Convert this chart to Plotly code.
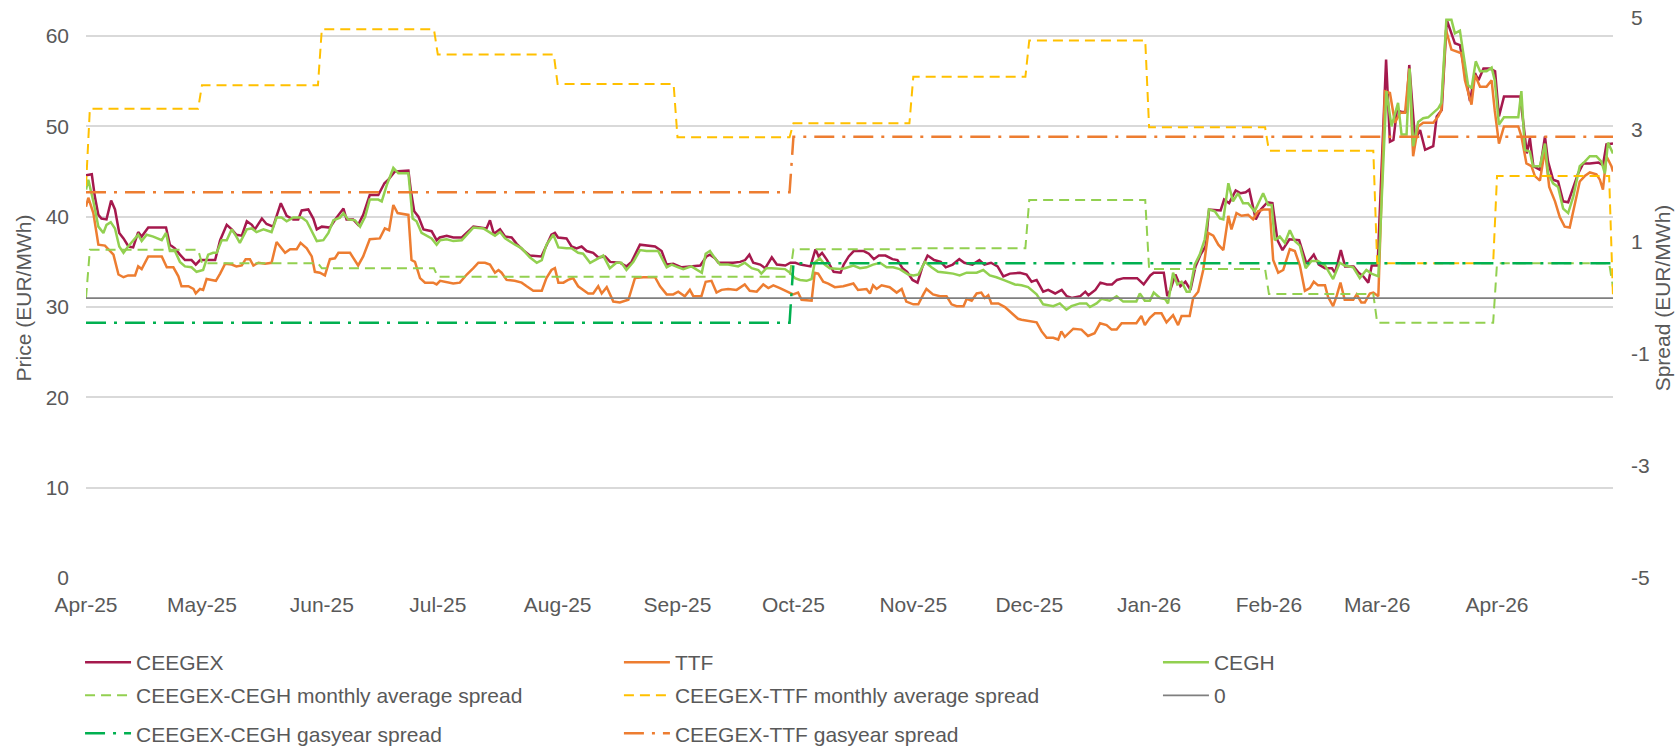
import plotly.graph_objects as go
import pandas as pd

# ---------------- data ----------------
START_DATE = "2025-04-01"   # day 0 of the day-offset arrays below

ceegex_day = [0, 1.5, 2.3, 3.2, 4, 5.3, 6.5, 7.5, 8.6, 9.7, 11, 12.2, 13.5, 14.4, 16.1, 20.7, 21.7, 23, 24.3, 25.6,
              27.3, 28.4, 29.5, 33.4, 34.7, 36.4, 37.7, 38.9, 40.3, 41.6, 42.9, 43.7, 45.5, 46.7, 48.4, 50.4, 51.9,
              53.6, 54.9, 55.8, 57.5, 58.8, 59.7, 61, 63.1, 64.8, 66.6, 67.4, 69.1, 70.4, 71.7, 73.4, 75.6, 77.2,
              78.2, 79.9, 83.4, 84, 84.9, 86, 87.3, 89.4, 90.7, 91.5, 93.3, 95, 97.2, 98.5, 100.2, 101.9, 103.6,
              104.5, 105.5, 107.1, 108.4, 110.1, 111.4, 113.1, 114.8, 117.8, 119.1, 120.4, 121.3, 122.1, 124.3,
              125.6, 126.9, 128.2, 129.5, 131.2, 132.5, 134.3, 135.6, 138.1, 139.8, 141.1, 143.3, 145, 147.2,
              148.9, 150.2, 151.9, 154.1, 156.2, 158.9, 160.5, 161.4, 162.7, 163.6, 167.4, 169.2, 170.5, 171.6,
              172.6, 174.4, 175.7, 177.4, 178.7, 180.9, 182.2, 183.5, 184.8, 187.4, 188.7, 189.5, 190.4, 191.7,
              193.4, 195.2, 196, 197.3, 198.6, 201.2, 202.5, 203.8, 205.1, 206.8, 208.6, 209.9, 211.2, 212.4,
              213.8, 215.1, 216.4, 217.7, 219.4, 221.1, 222.4, 224.2, 225.9, 227.2, 229.3, 231.1, 232.4, 234.1,
              235.8, 237.3, 239, 241.6, 243.3, 244.6, 245.9, 246.8, 247.6, 248.9, 250.7, 252.4, 253.7, 255, 257.2,
              258.5, 259.3, 261.1, 262.4, 264.1, 265.4, 266.7, 268.4, 271.9, 273.6, 275.3, 276.2, 278.8, 279.7,
              280.5, 281.8, 283.1, 284.4, 285.7, 287, 288.3, 289.6, 290.5, 293.5, 294.4, 295.7, 297.4, 298.7, 300,
              300.9, 302.6, 303.9, 305.6, 306.9, 308.2, 309.5, 311.3, 313.8, 315.7, 317.6, 318.9, 320.5, 322.3,
              323.1, 324.6, 325.7, 327.9, 329.2, 330.4, 331.7, 332.6, 334.1, 336.3, 337.3, 338.2, 339.1, 340.3,
              341.5, 342.3, 343.8, 345.1, 346.4, 348.5, 349.4, 350.7, 352, 353.2, 354.1, 355.4, 356.7, 358, 359.3,
              360.2, 361.5, 363.2, 364.5, 365.5, 366.8, 371, 371.8, 372.7, 373.5, 374.4, 376.1, 377.4, 378.2,
              379.5, 380.8, 382.1, 383.4, 384.7, 386, 387.3, 389, 391.2, 392.4, 393.3, 395]
ceegex_price = [44.6, 44.7, 42.2, 40.2, 39.8, 39.7, 41.8, 40.8, 38.2, 37.6, 36.7, 36.6, 38.3, 37.8, 38.8, 38.8, 36.9,
                36.5, 35.8, 35.2, 35.2, 34.7, 35.2, 35.2, 37.4, 39.1, 38.6, 38.0, 37.9, 39.5, 39.1, 38.6, 39.8, 39.2,
                38.9, 41.5, 40.1, 39.7, 39.7, 40.7, 40.8, 39.8, 38.6, 38.9, 38.8, 39.9, 40.9, 39.7, 39.7, 39.1, 40.2,
                42.4, 42.4, 43.7, 44.1, 45.0, 45.1, 43.0, 40.6, 40.0, 38.6, 38.4, 37.4, 37.7, 37.9, 37.7, 37.7, 38.2,
                38.9, 38.8, 38.7, 39.6, 38.1, 38.6, 37.8, 37.7, 37.0, 36.3, 35.7, 35.6, 36.9, 38.0, 38.2, 37.7, 37.6,
                36.7, 36.5, 36.7, 36.2, 36.0, 35.5, 35.6, 35.0, 34.9, 34.5, 35.0, 36.9, 36.8, 36.7, 36.2, 34.7, 34.8,
                34.4, 34.5, 34.6, 35.6, 35.8, 35.4, 34.9, 34.9, 35.0, 35.2, 35.8, 34.9, 34.7, 34.3, 35.5, 34.7, 34.6,
                34.9, 34.9, 34.7, 34.5, 36.4, 35.6, 36.0, 35.2, 33.9, 33.8, 34.7, 35.6, 36.2, 36.2, 35.9, 35.3, 35.7,
                35.7, 35.3, 35.2, 34.3, 33.9, 33.0, 32.7, 34.5, 35.7, 35.2, 35.0, 34.4, 34.7, 35.3, 34.9, 34.7, 35.2,
                34.7, 34.9, 34.5, 33.4, 33.7, 33.8, 33.6, 32.8, 33.0, 32.3, 31.7, 31.9, 31.5, 31.9, 31.2, 31.0, 31.2,
                31.7, 31.3, 31.9, 32.7, 32.5, 32.5, 33.0, 33.2, 33.2, 32.5, 33.5, 33.8, 33.8, 31.2, 31.9, 33.6, 32.3,
                32.8, 31.9, 34.5, 35.8, 36.7, 40.8, 40.7, 41.9, 41.5, 42.9, 42.6, 42.7, 43.0, 39.7, 40.8, 41.6, 41.5,
                37.4, 36.3, 37.5, 37.4, 34.8, 35.8, 34.7, 34.3, 34.3, 33.8, 36.3, 34.5, 34.5, 33.8, 33.4, 32.7, 34.6,
                34.6, 57.4, 48.3, 48.5, 51.8, 51.6, 51.6, 56.8, 48.5, 49.6, 47.4, 47.8, 51.1, 51.8, 61.8, 60.3, 59.2,
                59.0, 55.7, 52.8, 55.9, 55.1, 56.4, 56.4, 56.1, 51.1, 53.3, 53.3, 50.4, 47.0, 48.7, 45.6, 45.2, 48.9,
                46.1, 44.1, 43.9, 41.7, 41.6, 43.3, 44.8, 45.9, 45.9, 46.0, 45.7, 48.0, 48.1]

ttf_day = [0, 0.6, 1.9, 3.2, 4.9, 6.2, 7.1, 8.4, 9.7, 10.9, 12.7, 13.5, 14.4, 16.1, 19.6, 20.9, 22.6, 23.9, 24.7, 26.5,
           27.8, 28.4, 29.5, 30.3, 31.2, 32.5, 33.6, 34.7, 36, 37.7, 38.9, 40.3, 41.3, 42.4, 43.3, 44.6, 46.3, 48,
           49.3, 51.5, 52.8, 54.5, 55.5, 57.1, 58.4, 59.2, 60.5, 61.8, 63.1, 64.4, 65.3, 68.3, 70.4, 71.7, 73.4, 76,
           77.3, 78.4, 79.5, 80.6, 83.4, 84.2, 85.1, 86.4, 87.7, 89.8, 90.7, 91.6, 93.7, 95, 96.7, 98.5, 100.2,
           101.5, 103.2, 104.5, 105.8, 106.7, 107.5, 108.8, 110.9, 112.7, 114, 115.7, 117.9, 119.1, 120.4, 121.3,
           122.2, 123.5, 124.7, 126, 127.3, 128.6, 129.9, 131.2, 132.5, 133.4, 134.7, 136.4, 138.1, 140.3, 142,
           144.2, 147.2, 148.5, 150.2, 151.9, 153.2, 154.9, 156.2, 157.1, 159.2, 160.3, 161.8, 163.1, 164.4, 166.1,
           168.3, 170.4, 171.7, 173.5, 175.2, 176.5, 177.8, 179.5, 181.6, 182.9, 184.2, 185.1, 187.7, 188.5, 189.4,
           190.7, 192, 193.7, 195.9, 198.5, 199.7, 201.9, 202.8, 203.6, 204.5, 205.8, 207.9, 209.7, 211, 212.2, 214,
           215.3, 216.6, 217.4, 219.1, 220.9, 222.6, 223.9, 225.2, 227, 227.8, 229.1, 230.4, 231.6, 232.5, 233.4,
           234.2, 236, 237.7, 239.4, 241.1, 242, 243.7, 245.9, 247.2, 248.5, 250.2, 251.5, 252.3, 253.2, 255.4,
           257.5, 259.2, 260.9, 262.3, 264, 265.3, 266.6, 267.9, 271.7, 273, 273.9, 275.2, 276.5, 278.2, 279.5,
           281.2, 282.5, 283.4, 285.5, 286.4, 287.7, 289, 290.3, 291.6, 292.9, 294.2, 295.5, 296.3, 297.6, 298.9,
           300.6, 301.9, 303.2, 304.5, 306.2, 307.1, 308.4, 309.7, 311.4, 312.7, 314, 315.3, 316.6, 317.6, 318.7,
           320.5, 321.3, 322.6, 323.5, 324.5, 325.6, 327.8, 328.7, 329.9, 330.8, 332.1, 333, 334.3, 336, 337.3,
           338.6, 339.9, 341.2, 342.3, 343.3, 344.6, 345.9, 348.5, 349.8, 350.6, 351.8, 353.2, 354.5, 355.8, 356.7,
           358.4, 359.3, 360.6, 362.3, 363.6, 364.4, 365.5, 366.8, 370.5, 371.3, 372.6, 373.9, 374.8, 376.1, 377.4,
           378.5, 380, 381.2, 382.5, 383.8, 385.1, 386.4, 387.7, 389, 390.7, 391.6, 392.4, 393.3, 394.6, 395]
ttf_price = [41.1, 42.1, 40.4, 36.9, 36.8, 36.2, 35.8, 33.6, 33.3, 33.5, 33.5, 34.5, 34.2, 35.6, 35.6, 34.4, 34.4, 33.4,
             32.3, 32.3, 32.0, 31.5, 32.0, 31.9, 33.1, 33.0, 32.9, 33.7, 34.8, 34.7, 34.5, 34.6, 35.3, 35.3, 34.6,
             34.9, 34.8, 34.9, 37.2, 36.0, 36.4, 36.4, 37.1, 36.5, 35.6, 33.9, 33.8, 33.5, 35.3, 35.4, 36.0, 36.0,
             34.6, 35.6, 37.5, 37.6, 38.7, 38.5, 41.3, 40.4, 40.2, 35.2, 35.0, 33.2, 32.7, 32.7, 32.5, 32.9, 32.7,
             32.6, 32.7, 33.6, 34.3, 34.9, 34.9, 34.7, 33.8, 34.1, 33.8, 33.0, 32.9, 32.7, 32.3, 31.8, 31.8, 33.2,
             34.1, 34.3, 32.7, 32.7, 33.0, 33.2, 32.3, 31.9, 31.5, 31.5, 32.3, 31.5, 32.2, 30.6, 30.5, 30.8, 33.2,
             33.3, 33.3, 32.3, 31.4, 31.4, 31.7, 31.2, 31.9, 31.2, 31.2, 32.8, 32.9, 31.6, 31.9, 32.0, 31.9, 32.5,
             31.8, 31.7, 32.5, 32.1, 32.4, 32.1, 31.7, 31.4, 31.6, 30.8, 30.7, 33.8, 33.7, 32.8, 32.6, 32.2, 32.3,
             32.6, 31.9, 32.0, 31.5, 32.4, 32.0, 32.4, 32.2, 31.6, 32.0, 30.6, 30.3, 30.3, 31.4, 32.0, 31.4, 31.2,
             31.2, 30.3, 30.1, 30.1, 30.9, 30.7, 31.5, 31.6, 31.0, 31.3, 30.4, 30.4, 30.0, 29.4, 28.7, 28.6, 28.5,
             28.3, 27.3, 26.6, 26.6, 26.4, 27.3, 26.7, 27.6, 27.5, 26.8, 27.1, 28.2, 28.0, 27.5, 27.5, 28.2, 28.2,
             29.0, 28.0, 28.8, 29.3, 29.3, 28.3, 29.1, 28.0, 29.0, 29.0, 31.0, 31.7, 34.1, 38.2, 37.9, 36.9, 36.3,
             40.1, 38.6, 40.4, 40.1, 40.2, 39.7, 40.6, 40.8, 40.8, 35.2, 33.8, 34.1, 36.4, 36.2, 34.6, 31.8, 32.1,
             32.8, 32.4, 32.4, 31.1, 30.1, 31.2, 32.7, 30.8, 30.8, 31.4, 30.5, 30.5, 31.5, 31.6, 31.2, 53.9, 53.7,
             50.4, 51.5, 51.5, 56.4, 46.7, 50.0, 50.4, 50.4, 51.1, 51.8, 60.7, 58.5, 58.3, 58.1, 55.1, 52.4, 55.7,
             54.4, 54.4, 55.1, 51.8, 48.1, 50.0, 50.0, 48.9, 45.9, 45.6, 44.5, 44.0, 47.4, 43.3, 41.7, 40.0, 38.9,
             38.8, 41.5, 43.9, 44.5, 44.9, 44.7, 44.1, 43.0, 46.7, 45.6, 45.0]

cegh_day = [0, 0.6, 1.9, 3.2, 4.5, 5.3, 6.4, 7.5, 8.6, 9.7, 10.9, 12.2, 13.5, 14.4, 15.7, 17.4, 19.6, 20.7, 21.7, 23,
            24.3, 25.6, 27.3, 28.6, 30.3, 31.6, 32.9, 33.8, 35.1, 36.4, 37.7, 38.9, 39.8, 41.6, 42.9, 44.1, 45.9, 48,
            49.3, 50.6, 51.9, 53.6, 55.8, 57.1, 58.4, 59.7, 61.4, 62.7, 64, 65.7, 66.6, 67.8, 69.6, 70.9, 72.2, 73.4,
            75.6, 76.5, 77.8, 79.5, 80.8, 83.4, 84.5, 85.5, 86.8, 89.4, 90.7, 91.6, 93.3, 95, 97.2, 98.5, 100.2,
            102.8, 104.5, 105.8, 107.1, 108.4, 111, 112.7, 114.8, 116.6, 117.9, 119.1, 120.9, 122.2, 124.3, 125.6,
            127.3, 128.6, 130.4, 132.5, 133.8, 135.5, 137.2, 138.5, 139.8, 141.6, 143.3, 145, 148, 150.2, 151.5,
            153.2, 154.5, 156.6, 159.3, 160.3, 161.4, 162.7, 164, 166.1, 168.7, 170.4, 172.2, 173.9, 174.7, 176,
            177.3, 180.8, 182.1, 183.4, 184.7, 186.4, 187.7, 188.5, 189.8, 191.1, 192.4, 195, 196.3, 198.5, 200.2,
            201.9, 203.6, 205.4, 207.1, 208.8, 210.5, 212.7, 214, 215.3, 217, 218.7, 220.4, 222.6, 224.3, 226,
            227.8, 230.4, 232.1, 233.8, 235.5, 237.3, 239, 240.3, 242, 243.7, 245.9, 247.6, 250.2, 251.9, 253.6,
            254.9, 257.1, 258.8, 259.7, 261.4, 262.7, 264.8, 266.6, 268.3, 271.7, 272.6, 273.9, 275.2, 276.2, 277.8,
            279.1, 279.9, 281.2, 282.3, 283.4, 284.7, 285.5, 286.8, 288.1, 289.4, 290.5, 292, 293.3, 294.2, 295.5,
            296.7, 298, 299.3, 300.6, 302.3, 304.5, 305.8, 306.7, 307.5, 308.8, 310.1, 311.4, 312.7, 314, 315.5, 317,
            318.7, 320.5, 322.6, 324.3, 325.6, 327.8, 329.5, 331.2, 332.5, 334.3, 336.4, 337.7, 339.4, 340.3, 341.6,
            342.4, 343.3, 344.6, 345.9, 347.2, 348.5, 349.8, 350.6, 351.9, 353.2, 354.1, 355.4, 356.2, 357.5, 358.4,
            359.5, 360.6, 362.3, 363.6, 364.4, 365.5, 366.8, 370.5, 371.3, 372.2, 373.5, 374.3, 376.1, 377.4, 378.2,
            379.5, 380.8, 382.1, 383.4, 384.7, 386.4, 387.7, 389, 390.7, 392, 392.9, 393.7, 395]
cegh_price = [43.0, 44.1, 41.7, 38.9, 38.2, 39.1, 39.4, 38.7, 36.7, 36.0, 36.7, 37.4, 38.0, 37.3, 38.0, 37.8, 37.4,
              38.2, 36.2, 36.2, 35.0, 34.5, 34.4, 33.9, 34.1, 35.8, 36.0, 36.0, 37.4, 37.4, 38.6, 37.8, 37.1, 38.6,
              38.7, 38.3, 38.6, 38.3, 39.9, 39.9, 39.5, 39.9, 39.9, 39.5, 38.4, 37.3, 37.4, 38.2, 39.6, 39.9, 40.4,
              39.7, 39.6, 38.9, 40.0, 41.9, 41.9, 41.7, 43.5, 45.4, 44.8, 44.8, 39.8, 39.5, 38.2, 37.6, 36.9, 37.4,
              37.5, 37.3, 37.4, 38.0, 38.8, 38.7, 38.2, 37.9, 38.3, 37.6, 36.9, 36.5, 35.5, 34.9, 35.2, 36.9, 38.0,
              36.6, 36.5, 36.5, 36.0, 35.9, 34.9, 35.4, 35.7, 34.3, 34.9, 34.9, 34.1, 35.0, 36.3, 36.2, 36.2, 34.4,
              34.7, 34.4, 34.2, 34.5, 33.8, 35.9, 36.2, 35.4, 34.7, 34.7, 34.5, 34.9, 34.3, 34.1, 33.7, 34.3, 34.3,
              34.2, 33.8, 33.2, 33.0, 32.9, 33.1, 34.9, 35.4, 34.7, 34.3, 34.2, 34.3, 34.6, 34.3, 34.4, 34.7, 34.9,
              34.4, 34.4, 34.2, 33.6, 33.5, 33.6, 35.0, 34.4, 33.9, 33.8, 33.7, 33.5, 33.8, 33.8, 34.1, 33.5, 33.3,
              33.0, 32.7, 32.5, 32.4, 32.2, 31.4, 30.3, 30.1, 30.4, 29.7, 30.1, 30.4, 30.4, 30.0, 30.4, 30.9, 30.7,
              31.2, 30.6, 30.6, 31.5, 30.7, 30.7, 31.6, 31.0, 30.9, 30.4, 33.8, 32.5, 32.8, 31.7, 31.7, 34.7, 35.8,
              37.5, 40.8, 40.6, 39.8, 39.7, 43.7, 41.7, 42.6, 41.5, 41.5, 40.6, 42.6, 41.3, 41.3, 37.4, 37.8, 37.1,
              38.5, 37.3, 36.8, 34.3, 35.1, 35.1, 34.6, 33.1, 34.9, 34.6, 34.4, 33.2, 34.1, 33.7, 33.4, 53.9, 50.0,
              52.6, 49.1, 49.1, 56.4, 47.8, 50.5, 50.9, 51.0, 51.5, 52.0, 52.6, 61.8, 61.8, 60.3, 60.6, 58.5, 54.6,
              54.2, 57.2, 56.1, 56.1, 56.5, 55.1, 50.2, 51.0, 51.0, 53.9, 47.4, 47.2, 45.6, 45.6, 48.1, 44.8, 43.7,
              43.3, 40.9, 40.4, 42.2, 45.6, 46.1, 46.7, 46.7, 46.1, 44.8, 48.2, 47.0]

# monthly average spreads (secondary axis), one value per month
months = ["Apr-25", "May-25", "Jun-25", "Jul-25", "Aug-25", "Sep-25", "Oct-25", "Nov-25", "Dec-25",
          "Jan-26", "Feb-26", "Mar-26", "Apr-26", "May-26"]
month_first_day = [1, 30, 61, 91, 122, 153, 183, 214, 244, 275, 306, 334, 365, 395]
month_last_day = [29, 60, 90, 121, 152, 182, 213, 243, 274, 305, 333, 364, 394, 395]
ceegex_cegh_monthly = [0.86, 0.62, 0.53, 0.38, 0.38, 0.38, 0.87, 0.89, 1.75, 0.52, 0.07, -0.44, 0.62, 0.19]
ceegex_ttf_monthly = [3.38, 3.80, 4.80, 4.35, 3.82, 2.87, 3.12, 3.95, 4.60, 3.05, 2.63, 0.62, 2.18, 0.02]
first_day_cegh_monthly = 0.0
first_day_ttf_monthly = 2.0

# gas-year spreads (secondary axis)
gasyears = ["GY 2024/25", "GY 2025/26"]
gasyear_first_day = [0, 183]
gasyear_last_day = [182, 395]
ceegex_cegh_gasyear = [-0.44, 0.62]
ceegex_ttf_gasyear = [1.89, 2.88]

zero_days = [0, 395]
zero_vals = [0, 0]

tick_dates = ["2025-04-01", "2025-05-01", "2025-06-01", "2025-07-01", "2025-08-01", "2025-09-01", "2025-10-01",
              "2025-11-01", "2025-12-01", "2026-01-01", "2026-02-01", "2026-03-01", "2026-04-01"]
tick_text = ["Apr-25", "May-25", "Jun-25", "Jul-25", "Aug-25", "Sep-25", "Oct-25", "Nov-25", "Dec-25",
             "Jan-26", "Feb-26", "Mar-26", "Apr-26"]
price_ticks = [0, 10, 20, 30, 40, 50, 60]
spread_ticks = [-5, -3, -1, 1, 3, 5]
spread_tick_text = ["-5", "-3", "-1", "1", "3", "5"]

# ---------------- helpers ----------------
base = pd.Timestamp(START_DATE)


def to_dates(days):
    return [base + pd.Timedelta(days=d) for d in days]


def monthly_xy(first_val, vals):
    xs, ys = [0], [first_val]
    for f, l, v in zip(month_first_day, month_last_day, vals):
        xs += [f, l]
        ys += [v, v]
    return to_dates(xs), ys


def gasyear_xy(vals):
    xs, ys = [], []
    for f, l, v in zip(gasyear_first_day, gasyear_last_day, vals):
        xs += [f, l]
        ys += [v, v]
    return to_dates(xs), ys


FONT = "Liberation Sans, Arial, sans-serif"
TXT = "#595959"

fig = go.Figure()

# price series (primary axis)
fig.add_trace(go.Scatter(x=to_dates(ceegex_day), y=ceegex_price, name="CEEGEX", mode="lines",
                         line=dict(color="#A5194D", width=2.5), legend="legend"))
fig.add_trace(go.Scatter(x=to_dates(ttf_day), y=ttf_price, name="TTF", mode="lines",
                         line=dict(color="#ED7D31", width=2.5), legend="legend2"))
fig.add_trace(go.Scatter(x=to_dates(cegh_day), y=cegh_price, name="CEGH", mode="lines",
                         line=dict(color="#92D050", width=2.5), legend="legend3"))

# spreads (secondary axis)
mx, my = monthly_xy(first_day_cegh_monthly, ceegex_cegh_monthly)
fig.add_trace(go.Scatter(x=mx, y=my, name="CEEGEX-CEGH monthly average spread", mode="lines", yaxis="y2",
                         line=dict(color="#92D050", width=2, dash="10px,6px"), legend="legend4"))
mx, my = monthly_xy(first_day_ttf_monthly, ceegex_ttf_monthly)
fig.add_trace(go.Scatter(x=mx, y=my, name="CEEGEX-TTF monthly average spread", mode="lines", yaxis="y2",
                         line=dict(color="#FFC000", width=2, dash="10px,6px"), legend="legend5"))
fig.add_trace(go.Scatter(x=to_dates(zero_days), y=zero_vals, name="0", mode="lines", yaxis="y2",
                         line=dict(color="#7F7F7F", width=1.75), legend="legend6"))
gx, gy = gasyear_xy(ceegex_cegh_gasyear)
fig.add_trace(go.Scatter(x=gx, y=gy, name="CEEGEX-CEGH gasyear spread", mode="lines", yaxis="y2",
                         line=dict(color="#00B050", width=2.5, dash="20px,8px,3px,8px"), legend="legend7"))
gx, gy = gasyear_xy(ceegex_ttf_gasyear)
fig.add_trace(go.Scatter(x=gx, y=gy, name="CEEGEX-TTF gasyear spread", mode="lines", yaxis="y2",
                         line=dict(color="#ED7D31", width=2.5, dash="20px,8px,3px,8px"), legend="legend8"))

# legend grid: 3 columns x 3 rows (one legend box per entry)
col_x = [-0.0039, 0.3490, 0.7020]
row_y = [-0.1144, -0.1734, -0.2414]
leg_common = dict(orientation="h", xanchor="left", yanchor="top", itemwidth=46,
                  font=dict(family=FONT, size=21, color=TXT), bgcolor="rgba(0,0,0,0)")
legend_cells = [(0, 0), (0, 1), (0, 2), (1, 0), (1, 1), (1, 2), (2, 0), (2, 1)]
legends = {}
for i, (r, c) in enumerate(legend_cells):
    key = "legend" if i == 0 else "legend%d" % (i + 1)
    legends[key] = dict(leg_common, x=col_x[c], y=row_y[r])

fig.update_layout(
    width=1679, height=747,
    margin=dict(l=86, r=66, t=18, b=169, autoexpand=False),
    paper_bgcolor="white", plot_bgcolor="white",
    font=dict(family=FONT, size=21, color=TXT),
    showlegend=True,
    xaxis=dict(type="date", range=[base, base + pd.Timedelta(days=395)],
               tickvals=tick_dates, ticktext=tick_text, showgrid=False, zeroline=False,
               showline=False, ticks="", ticklabelstandoff=12,
               tickfont=dict(family=FONT, size=21, color=TXT)),
    yaxis=dict(range=[0, 62], tickvals=price_ticks, showgrid=True,
               gridcolor="#D9D9D9", gridwidth=1.5, zeroline=False, showline=False, ticks="",
               ticklabelstandoff=16, tickfont=dict(family=FONT, size=21, color=TXT),
               title=dict(text="Price (EUR/MWh)", font=dict(family=FONT, size=21, color=TXT), standoff=8)),
    yaxis2=dict(range=[-5, 5], tickvals=spread_ticks, ticktext=spread_tick_text, overlaying="y", side="right",
                showgrid=False, zeroline=False, showline=False, ticks="",
                ticklabelstandoff=17, tickfont=dict(family=FONT, size=21, color=TXT),
                title=dict(text="Spread (EUR/MWh)", font=dict(family=FONT, size=21, color=TXT), standoff=6)),
    **legends,
)

fig.write_html("out.html", config={"displayModeBar": False},
               post_script="document.body.style.margin='0px';")
